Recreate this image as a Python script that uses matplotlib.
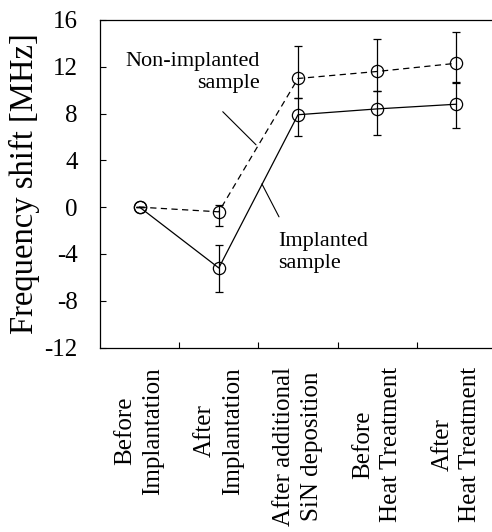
import matplotlib
matplotlib.use("Agg")
import matplotlib.pyplot as plt
import numpy as np

plt.rcParams['font.family'] = ['Liberation Serif', 'DejaVu Serif']

categories = ["Before\nImplantation", "After\nImplantation",
              "After additional\nSiN deposition", "Before\nHeat Treatment",
              "After\nHeat Treatment"]
implanted = [0.0, -5.2, 7.9, 8.4, 8.8]
implanted_err_low = [0.0, 2.05, 1.85, 2.2, 2.0]
implanted_err_high = [0.0, 1.95, 1.45, 1.5, 1.8]
non_implanted = [0.0, -0.4, 11.0, 11.6, 12.3]
non_implanted_err_low = [0.0, 1.2, 1.65, 1.7, 1.6]
non_implanted_err_high = [0.0, 0.6, 2.75, 2.8, 2.7]
yticks = [-12, -8, -4, 0, 4, 8, 12, 16]

W, H = 492, 532
fig = plt.figure(figsize=(W/100, H/100), dpi=100)
ax = fig.add_axes([100/W, (H-347.5)/H, 396/W, 327.5/H])

x = np.arange(len(categories))
lw = 0.9
ax.errorbar(x, non_implanted, yerr=[non_implanted_err_low, non_implanted_err_high],
            fmt='o', ls=(0, (5, 3.5)), color='black', lw=lw, mfc='none', mec='black',
            ms=8.8, mew=0.9, capsize=2.6, capthick=lw, elinewidth=lw)
ax.errorbar(x, implanted, yerr=[implanted_err_low, implanted_err_high],
            fmt='o', ls='-', color='black', lw=lw, mfc='none', mec='black',
            ms=8.8, mew=0.9, capsize=2.6, capthick=lw, elinewidth=lw)

ax.set_xlim(-0.5, 4.5)
ax.set_ylim(-12, 16)
ax.set_yticks(yticks)
ax.set_yticklabels([str(v) for v in yticks])
ax.set_xticks(x)
ax.set_xticklabels(categories, rotation=90, multialignment='center', va='top',
                   ha='center', linespacing=1.35)
ax.set_xticks(x[:-1] + 0.5, minor=True)
ax.tick_params(axis='x', which='major', length=0, labelsize=18, pad=14)
ax.tick_params(axis='x', which='minor', length=4.3, direction='in', width=0.8)
ax.tick_params(axis='y', direction='in', length=4.3, width=0.8, labelsize=18, pad=16)
ax.set_ylabel("Frequency shift [MHz]", fontsize=23.5, labelpad=3)
for s in ax.spines.values():
    s.set_linewidth(0.9)

# annotations
ax.annotate('', xy=(1.47, 5.33), xytext=(1.05, 8.16),
            arrowprops=dict(arrowstyle='-', lw=0.8, color='black', shrinkA=0, shrinkB=0))
ax.text(1.52, 11.5, "Non-implanted\nsample", ha='right', va='center',
        multialignment='right', fontsize=16, linespacing=1.2)
ax.annotate('', xy=(1.76, -0.83), xytext=(1.544, 1.99),
            arrowprops=dict(arrowstyle='-', lw=0.8, color='black', shrinkA=0, shrinkB=0))
ax.text(1.75, -3.9, "Implanted\nsample", ha='left', va='center',
        multialignment='left', fontsize=16, linespacing=1.2)

fig.savefig("out.png", dpi=100)
